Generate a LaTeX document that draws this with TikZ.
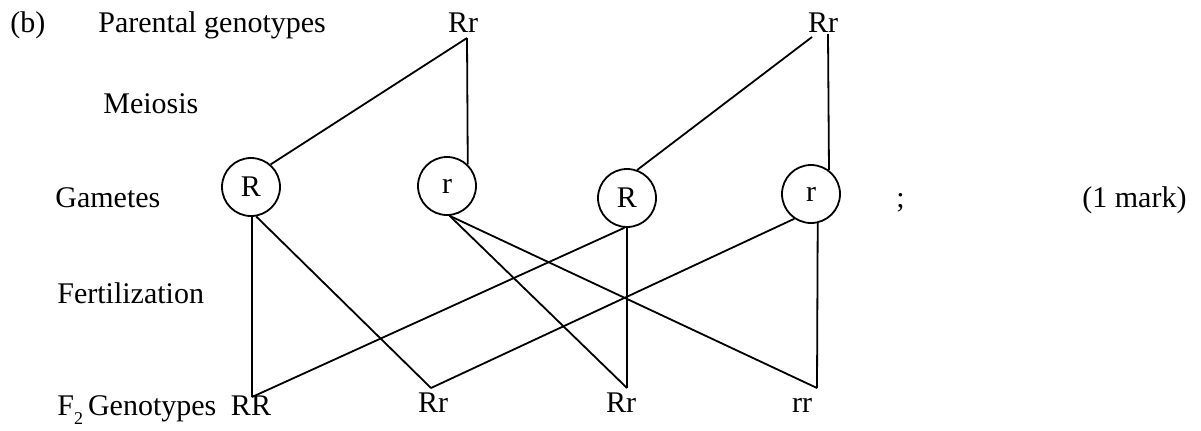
\documentclass[tikz,border=0pt]{standalone}
\usepackage{fontspec}
\setmainfont{Liberation Serif}
\begin{document}
\begin{tikzpicture}[x=0.5pt,y=-0.5pt,
  every node/.style={font=\fontsize{15}{18}\selectfont, inner sep=0pt},
  lbl/.style={anchor=base west},
  geno/.style={anchor=base},
  gamete/.style={draw, circle, minimum size=29pt, line width=0.9pt},
  link/.style={line width=0.9pt}]
\useasboundingbox[fill=white] (0,0) rectangle (1201,430);
% left column labels
\node[lbl] (b) at (10,32) {(b)};
\node[lbl] (par) at (98,32) {Parental genotypes};
\node[lbl] (mei) at (103,113) {Meiosis};
\node[lbl] (gam) at (55,207) {Gametes};
\node[lbl] (fer) at (57,303) {Fertilization};
\node[lbl] (f2) at (57,415) {F\raisebox{-0.7ex}{\fontsize{9}{9}\selectfont 2}\,Genotypes};
\node[lbl] (semi) at (896,207) {;};
\node[lbl] (mark) at (1082,207) {(1 mark)};
% parents
\node[geno] (p1) at (463,32) {Rr};
\node[geno] (p2) at (823,32) {Rr};
\coordinate (p1a) at (467,38);
\coordinate (p2a) at (812,37);
\coordinate (p2b) at (828,34);
% gametes
\node[gamete] (g1) at (251,187) {R};
\node[gamete] (g2) at (447,186) {r};
\node[gamete] (g3) at (627,198) {R};
\node[gamete] (g4) at (811,194) {r};
% offspring
\node[geno] (o1) at (251,415) {RR};
\node[geno] (o2) at (433,412) {Rr};
\node[geno] (o3) at (621,412) {Rr};
\node[geno] (o4) at (802,412) {rr};
\coordinate (a1) at (252,397);
\coordinate (a2) at (431,388);
\coordinate (a3) at (627,388);
\coordinate (a4) at (817,388);
% meiosis lines
\draw[link] (p1a) -- (g1.49);
\draw[link] (p1a) -- (g2.46);
\draw[link] (p2a) -- (g3.70);
\draw[link] (p2b) -- (g4.53);
% fertilization lines
\draw[link] (g1.-88) -- (a1);
\draw[link] (g1.-80) -- (a2);
\draw[link] (g2.-85) -- (a3);
\draw[link] (g2.-85) -- (a4);
\draw[link] (g3.-90) -- (a3);
\draw[link] (g3.-95) -- (a1);
\draw[link] (g4.-77) -- (a4);
\draw[link] (g4.-124) -- (a2);
\end{tikzpicture}
\end{document}
